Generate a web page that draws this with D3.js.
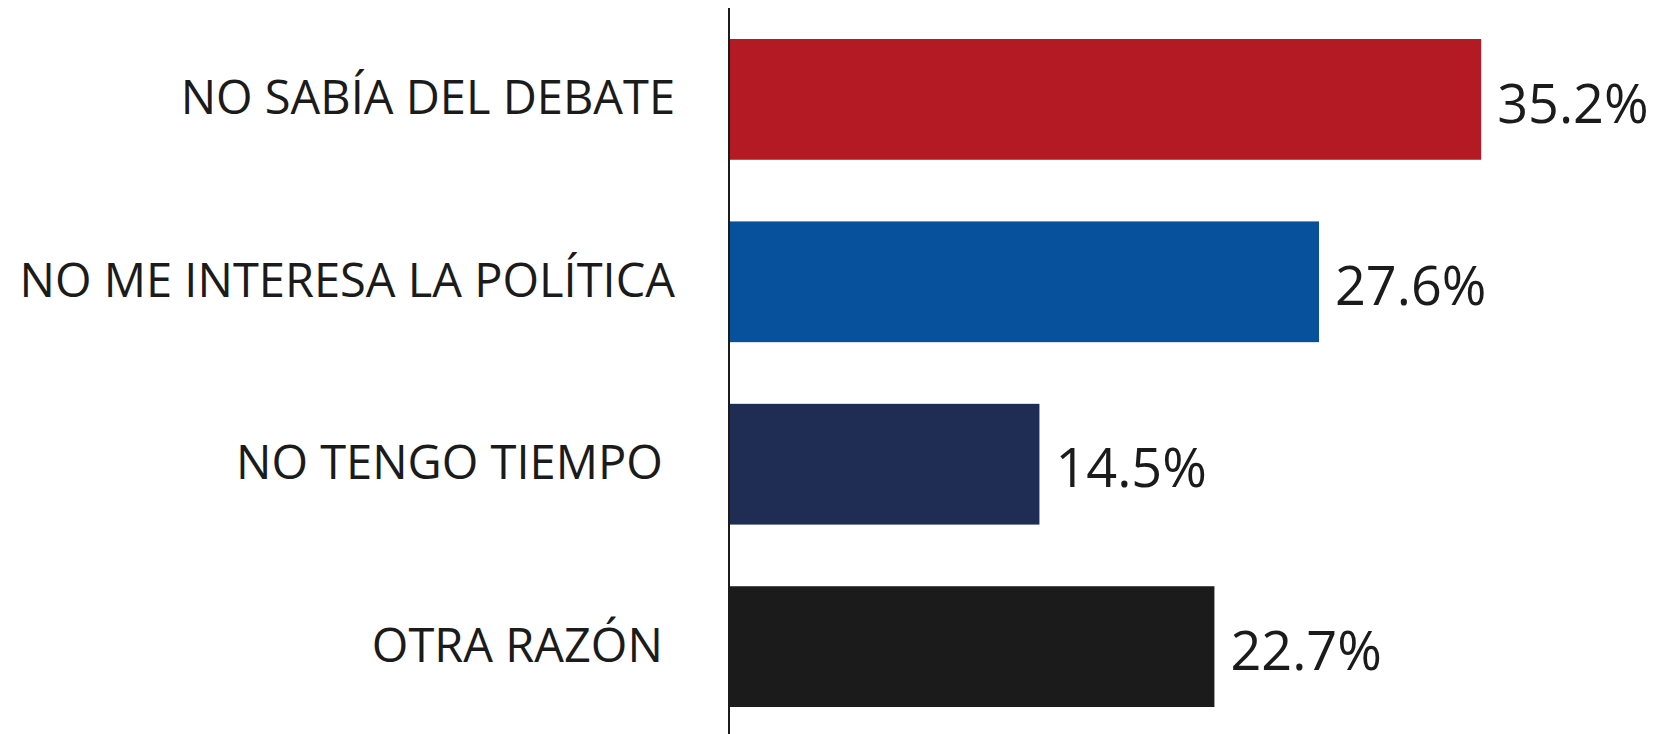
<!DOCTYPE html>
<html lang="es">
<head>
    <meta charset="UTF-8">
    <title>Razones</title>
    <script src="https://d3js.org/d3.v7.min.js"></script>
    <style>
        body { margin: 0; background: #fff; }
        text { font-family: "Open Sans", sans-serif; fill: #1b1b1b; }
    </style>
</head>
<body>
<script>
    const width  = 1663;
    const height = 734;

    // trailing spaces are in the original labels
    const categories = ["NO SABÍA DEL DEBATE", "NO ME INTERESA LA POLÍTICA", "NO TENGO TIEMPO ", "OTRA RAZÓN "];
    const values     = [35.2, 27.6, 14.5, 22.7];
    const colors     = ["#b31a23", "#07519c", "#1f2d55", "#1b1b1b"];

    const data = categories.map((c, i) => ({cat: c, val: values[i], color: colors[i]}));

    const axisX = 729;

    const scaleX = d3.scaleLinear()
                     .domain([0, 40])
                     .range([axisX + 1, axisX + 1 + 21.34 * 40]);

    const scaleY = d3.scaleBand()
                     .domain(categories)
                     .range([39, 707])
                     .paddingInner(0.338)
                     .paddingOuter(0);

    const svg = d3.select("body").append("svg").attr("width", width).attr("height", height);

    svg.selectAll("rect.bar")
        .data(data)
        .enter().append("rect")
            .attr("class", "bar")
            .attr("x", scaleX(0))
            .attr("y", d => scaleY(d.cat))
            .attr("width", d => scaleX(d.val) - scaleX(0))
            .attr("height", scaleY.bandwidth())
            .attr("fill", d => d.color);

    svg.selectAll("text.val")
        .data(data)
        .enter().append("text")
            .attr("class", "val")
            .attr("x", d => scaleX(d.val) + 16)
            .attr("y", d => scaleY(d.cat) + scaleY.bandwidth() / 2)
            .attr("dy", "0.43em")
            .style("font-size", "54px")
            .text(d => d.val.toFixed(1) + "%");

    const yAxis = d3.axisLeft(scaleY).tickSize(0).tickPadding(54);
    const g = svg.append("g")
        .attr("transform", "translate(" + [axisX, 0] + ")")
        .call(yAxis);
    g.select(".domain").remove();
    g.selectAll("text")
        .attr("xml:space", "preserve")
        .style("white-space", "pre")
        .style("font-size", "47px")
        .style("fill", "#1b1b1b");

    svg.append("line")
        .attr("x1", axisX).attr("x2", axisX)
        .attr("y1", 8).attr("y2", height)
        .attr("stroke", "#1b1b1b")
        .attr("stroke-width", 2);
</script>
</body>
</html>
